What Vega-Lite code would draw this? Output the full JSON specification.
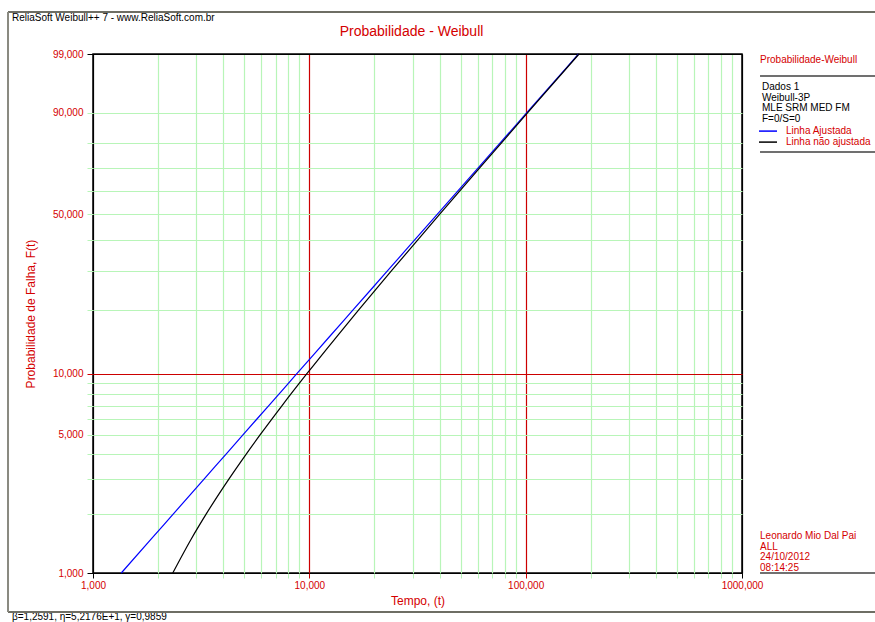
{
  "$schema": "https://vega.github.io/schema/vega-lite/v6.json",
  "width": 649,
  "height": 519,
  "autosize": {"type": "none"},
  "padding": {"left": 93, "top": 54, "right": 133, "bottom": 49},
  "background": "white",
  "config": {
    "view": {"stroke": "#000000", "strokeWidth": 1.5},
    "font": "Liberation Sans"
  },
  "title": {
    "text": "Probabilidade - Weibull",
    "color": "#d40000",
    "fontSize": 14,
    "fontWeight": "normal",
    "font": "Liberation Sans",
    "anchor": "middle",
    "frame": "group",
    "dx": -6,
    "offset": 0,
    "dy": 28
  },
  "datasets": {
    "curves": [
      {"serie": "Linha Ajustada", "F": 1, "t": 1.3512, "lnln": -4.60015},
      {"serie": "Linha Ajustada", "F": 1.5, "t": 1.8686, "lnln": -4.19213},
      {"serie": "Linha Ajustada", "F": 2, "t": 2.3529, "lnln": -3.90194},
      {"serie": "Linha Ajustada", "F": 3, "t": 3.2602, "lnln": -3.49131},
      {"serie": "Linha Ajustada", "F": 4, "t": 4.1139, "lnln": -3.19854},
      {"serie": "Linha Ajustada", "F": 5, "t": 4.932, "lnln": -2.9702},
      {"serie": "Linha Ajustada", "F": 7, "t": 6.4956, "lnln": -2.62322},
      {"serie": "Linha Ajustada", "F": 10, "t": 8.7352, "lnln": -2.25037},
      {"serie": "Linha Ajustada", "F": 15, "t": 12.324, "lnln": -1.81696},
      {"serie": "Linha Ajustada", "F": 20, "t": 15.853, "lnln": -1.49994},
      {"serie": "Linha Ajustada", "F": 30, "t": 23.008, "lnln": -1.03093},
      {"serie": "Linha Ajustada", "F": 50, "t": 38.998, "lnln": -0.36651},
      {"serie": "Linha Ajustada", "F": 70, "t": 60.465, "lnln": 0.18563},
      {"serie": "Linha Ajustada", "F": 90, "t": 101.2, "lnln": 0.83403},
      {"serie": "Linha Ajustada", "F": 99, "t": 175.49, "lnln": 1.52718},
      {"serie": "Linha não ajustada", "F": 1, "t": 2.3371, "lnln": -4.60015},
      {"serie": "Linha não ajustada", "F": 1.5, "t": 2.8545, "lnln": -4.19213},
      {"serie": "Linha não ajustada", "F": 2, "t": 3.3388, "lnln": -3.90194},
      {"serie": "Linha não ajustada", "F": 3, "t": 4.2461, "lnln": -3.49131},
      {"serie": "Linha não ajustada", "F": 4, "t": 5.0998, "lnln": -3.19854},
      {"serie": "Linha não ajustada", "F": 5, "t": 5.9179, "lnln": -2.9702},
      {"serie": "Linha não ajustada", "F": 7, "t": 7.4815, "lnln": -2.62322},
      {"serie": "Linha não ajustada", "F": 10, "t": 9.7211, "lnln": -2.25037},
      {"serie": "Linha não ajustada", "F": 15, "t": 13.31, "lnln": -1.81696},
      {"serie": "Linha não ajustada", "F": 20, "t": 16.839, "lnln": -1.49994},
      {"serie": "Linha não ajustada", "F": 30, "t": 23.994, "lnln": -1.03093},
      {"serie": "Linha não ajustada", "F": 50, "t": 39.984, "lnln": -0.36651},
      {"serie": "Linha não ajustada", "F": 70, "t": 61.451, "lnln": 0.18563},
      {"serie": "Linha não ajustada", "F": 90, "t": 102.19, "lnln": 0.83403},
      {"serie": "Linha não ajustada", "F": 99, "t": 176.48, "lnln": 1.52718}
    ]
  },
  "layer": [
    {
      "data": {"name": "curves"},
      "mark": {"type": "line", "strokeWidth": 1.2, "interpolate": "monotone"},
      "encoding": {
        "x": {
          "field": "t",
          "type": "quantitative",
          "scale": {"type": "log", "domain": [1, 1000], "nice": false},
          "axis": {
            "title": "Tempo, (t)",
            "titleColor": "#d40000",
            "titleFontSize": 12,
            "titleFontWeight": "normal",
            "titleFont": "Liberation Sans",
            "titlePadding": 5,
            "tickCount": 200,
            "values": [1, 2, 3, 4, 5, 6, 7, 8, 9, 10, 20, 30, 40, 50, 60, 70, 80, 90, 100, 200, 300, 400, 500, 600, 700, 800, 900, 1000],
            "labelExpr": "indexof([1, 10, 100, 1000], datum.value) >= 0 ? datum.value + ',000' : ''",
            "labelColor": "#d40000",
            "labelFontSize": 10,
            "labelFont": "Liberation Sans",
            "labelPadding": 2,
            "labelFlush": false,
            "labelOverlap": false,
            "labelBound": false,
            "tickSize": 5,
            "domain": false,
            "grid": true,
            "gridWidth": 1.2,
            "gridColor": {
              "condition": [
                {"test": "datum.value == 10 || datum.value == 100", "value": "#cc0000"},
                {"test": "datum.value == 1 || datum.value == 1000", "value": "#000000"}
              ],
              "value": "#b8f5b8"
            },
            "tickColor": {
              "condition": [
                {"test": "datum.value == 10 || datum.value == 100", "value": "#cc0000"},
                {"test": "datum.value == 1 || datum.value == 1000", "value": "#000000"}
              ],
              "value": "#b8f5b8"
            }
          }
        },
        "y": {
          "field": "lnln",
          "type": "quantitative",
          "scale": {"type": "linear", "domain": [-4.60015, 1.52718], "nice": false, "zero": false},
          "axis": {
            "title": "Probabilidade de Falha, F(t)",
            "titleColor": "#d40000",
            "titleFontSize": 12,
            "titleFontWeight": "normal",
            "titleFont": "Liberation Sans",
            "titlePadding": 15,
            "tickCount": 200,
            "values": [-4.60015, -3.90194, -3.49131, -3.19854, -2.9702, -2.78263, -2.62322, -2.48433, -2.36116, -2.25037, -1.49994, -1.03093, -0.67173, -0.36651, -0.08742, 0.18563, 0.47588, 0.83403, 1.52718],
            "labelExpr": "indexof([1, 5, 10, 50, 90, 99], round(100 * (1 - exp(-exp(datum.value))))) >= 0 ? round(100 * (1 - exp(-exp(datum.value)))) + ',000' : ''",
            "labelColor": "#d40000",
            "labelFontSize": 10,
            "labelFont": "Liberation Sans",
            "labelPadding": 4,
            "labelFlush": false,
            "labelOverlap": false,
            "labelBound": false,
            "tickSize": 6,
            "domain": false,
            "grid": true,
            "gridWidth": 1.2,
            "gridColor": {
              "condition": [
                {"test": "abs(datum.value + 2.25037) < 0.001", "value": "#cc0000"},
                {"test": "abs(datum.value + 4.60015) < 0.001 || abs(datum.value - 1.52718) < 0.001", "value": "#000000"}
              ],
              "value": "#b8f5b8"
            },
            "tickColor": {
              "condition": [
                {"test": "abs(datum.value + 2.25037) < 0.001", "value": "#cc0000"},
                {"test": "abs(datum.value + 4.60015) < 0.001 || abs(datum.value - 1.52718) < 0.001", "value": "#000000"}
              ],
              "value": "#b8f5b8"
            }
          }
        },
        "color": {
          "field": "serie",
          "type": "nominal",
          "scale": {"domain": ["Linha Ajustada", "Linha não ajustada"], "range": ["#0000ff", "#000000"]},
          "legend": {
            "orient": "none",
            "legendX": 669,
            "legendY": 28,
            "title": ["Dados 1", "Weibull-3P", "MLE SRM MED FM", "F=0/S=0"],
            "titleFont": "Liberation Sans",
            "titleFontSize": 10,
            "titleFontWeight": "normal",
            "titleColor": "#000000",
            "titleLineHeight": 10.7,
            "titlePadding": 1,
            "labelFont": "Liberation Sans",
            "labelFontSize": 10,
            "labelColor": "#d40000",
            "labelOffset": 12,
            "symbolType": "M-1.8,0L1.8,0",
            "symbolSize": 100,
            "symbolStrokeWidth": 1.5,
            "rowPadding": 0,
            "padding": 0
          }
        }
      }
    },
    {
      "data": {"values": [{}]},
      "mark": {"type": "text", "align": "left", "baseline": "middle", "fontSize": 10, "color": "#000000", "font": "Liberation Sans"},
      "encoding": {"x": {"datum": 0.4222}, "y": {"datum": 1.9522}, "text": {"value": "ReliaSoft Weibull++ 7 - www.ReliaSoft.com.br"}}
    },
    {
      "data": {"values": [{}]},
      "mark": {"type": "text", "align": "left", "baseline": "middle", "fontSize": 10, "color": "#000000", "font": "Liberation Sans"},
      "encoding": {"x": {"datum": 0.4222}, "y": {"datum": -5.1198}, "text": {"value": "β=1,2591, η=5,2176E+1, γ=0,9859"}}
    },
    {
      "data": {"values": [{}]},
      "mark": {"type": "text", "align": "left", "baseline": "middle", "fontSize": 10, "color": "#d40000", "font": "Liberation Sans"},
      "encoding": {"x": {"datum": 1211.5}, "y": {"datum": 1.4563}, "text": {"value": "Probabilidade-Weibull"}}
    },
    {
      "data": {"values": [{}]},
      "mark": {"type": "text", "align": "left", "baseline": "top", "fontSize": 10, "lineHeight": 10.7, "color": "#d40000", "font": "Liberation Sans"},
      "encoding": {"x": {"datum": 1211.5}, "y": {"datum": -4.1044}, "text": {"value": ["Leonardo Mio Dal Pai", "ALL", "24/10/2012", "08:14:25"]}}
    },
    {
      "data": {"values": [{}]},
      "mark": {"type": "rule", "color": "#6e6e64", "strokeWidth": 2},
      "encoding": {"x": {"datum": 0.4047}, "x2": {"datum": 5000}, "y": {"datum": 2.0231}}
    },
    {
      "data": {"values": [{}]},
      "mark": {"type": "rule", "color": "#6e6e64", "strokeWidth": 2},
      "encoding": {"x": {"datum": 0.4047}, "x2": {"datum": 5000}, "y": {"datum": -5.0608}}
    },
    {
      "data": {"values": [{}]},
      "mark": {"type": "rule", "color": "#8a8a80", "strokeWidth": 2},
      "encoding": {"x": {"datum": 0.4047}, "y": {"datum": 2.0231}, "y2": {"datum": -5.0608}}
    },
    {
      "data": {"values": [{}]},
      "mark": {"type": "rule", "color": "#404040", "strokeWidth": 1.5},
      "encoding": {"x": {"datum": 1211.5}, "x2": {"datum": 5000}, "y": {"datum": 1.2674}}
    },
    {
      "data": {"values": [{}]},
      "mark": {"type": "rule", "color": "#404040", "strokeWidth": 1.5},
      "encoding": {"x": {"datum": 1211.5}, "x2": {"datum": 5000}, "y": {"datum": 0.3702}}
    },
    {
      "data": {"values": [{}]},
      "mark": {"type": "rule", "color": "#404040", "strokeWidth": 1.5},
      "encoding": {"x": {"datum": 1211.5}, "x2": {"datum": 5000}, "y": {"datum": -4.60015}}
    }
  ]
}
